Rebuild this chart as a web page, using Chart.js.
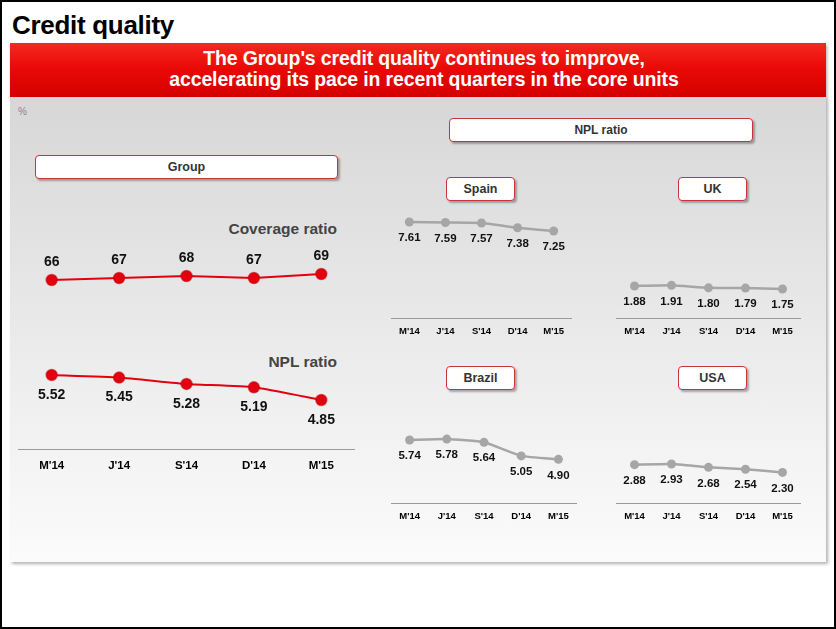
<!DOCTYPE html>
<html>
<head>
<meta charset="utf-8">
<script src="https://cdn.jsdelivr.net/npm/chart.js@4"></script>
<style>
  html, body { margin: 0; padding: 0; background: #fff; }
  body { font-family: "Liberation Sans", Arial, sans-serif; }
  #page {
    position: relative; width: 836px; height: 629px;
    border: 2px solid #000; box-sizing: border-box; overflow: hidden;
  }
  .abs { position: absolute; }
  #title { left: 10px; top: 8px; font-size: 26px; font-weight: bold; color: #000; letter-spacing: -0.3px; }
  #banner {
    left: 8px; top: 41px; width: 816px; height: 54px;
    background: linear-gradient(#f42a20 0%, #ea0a06 45%, #d40000 100%);
    box-shadow: 1px 2px 3px rgba(0,0,0,0.35);
    color: #fff; font-weight: bold; font-size: 19.5px; line-height: 21px;
    text-align: center; padding-top: 5px; box-sizing: border-box;
    padding-left: 12px; letter-spacing: -0.15px;
  }
  #panel {
    left: 8px; top: 95px; width: 816px; height: 465px;
    background: linear-gradient(#d7d7d7 0%, #e4e4e4 35%, #f1f1f1 70%, #fbfbfb 100%);
    box-shadow: 2px 2px 3px rgba(0,0,0,0.3);
  }
  #pct { left: 16px; top: 104px; font-size: 10px; color: #888; }
  .box {
    position: absolute; background: #fff; border: 1px solid #c9343a; border-radius: 4px;
    box-shadow: 2px 2px 2px rgba(0,0,0,0.3); box-sizing: border-box;
    font-weight: bold; color: #333; text-align: center;
  }
  .note { position: absolute; font-weight: bold; color: #444; font-size: 15.5px; text-align: right; }
  canvas { position: absolute; }
</style>
</head>
<body>
<div id="page">
  <div id="title" class="abs">Credit quality</div>
  <div id="banner" class="abs">The Group's credit quality continues to improve,<br>accelerating its pace in recent quarters in the core units</div>
  <div id="panel" class="abs"></div>
  <div id="pct" class="abs">%</div>

  <div class="box" style="left:33px;top:153px;width:303px;height:24px;line-height:22px;font-size:12.5px;">Group</div>
  <div class="box" style="left:447px;top:116px;width:304px;height:24px;line-height:22px;font-size:12px;">NPL ratio</div>
  <div class="box" style="left:444px;top:175px;width:69px;height:24px;line-height:22px;font-size:12.5px;">Spain</div>
  <div class="box" style="left:676px;top:175px;width:69px;height:24px;line-height:22px;font-size:12.5px;">UK</div>
  <div class="box" style="left:444px;top:364px;width:69px;height:24px;line-height:22px;font-size:12.5px;">Brazil</div>
  <div class="box" style="left:676px;top:364px;width:69px;height:24px;line-height:22px;font-size:12.5px;">USA</div>

  <div class="note" style="left:180px;top:218px;width:155px;">Coverage ratio</div>
  <div class="note" style="left:180px;top:351px;width:155px;">NPL ratio</div>

  <canvas id="group_chart" style="left:16px;top:198px;" width="337" height="280"></canvas>
  <canvas id="spain_chart" style="left:389px;top:198px;" width="181" height="145"></canvas>
  <canvas id="uk_chart" style="left:614px;top:198px;" width="185" height="145"></canvas>
  <canvas id="brazil_chart" style="left:389px;top:387px;" width="186" height="141"></canvas>
  <canvas id="usa_chart" style="left:614px;top:387px;" width="185" height="141"></canvas>
</div>

<script>
const quarters = ["M'14", "J'14", "S'14", "D'14", "M'15"];
const group_coverage = [66, 67, 68, 67, 69];
const group_npl = [5.52, 5.45, 5.28, 5.19, 4.85];
const spain_npl = [7.61, 7.59, 7.57, 7.38, 7.25];
const uk_npl = [1.88, 1.91, 1.80, 1.79, 1.75];
const brazil_npl = [5.74, 5.78, 5.64, 5.05, 4.90];
const usa_npl = [2.88, 2.93, 2.68, 2.54, 2.30];

const red = "#e3000f";
const grey = "#a6a6a6";

// draws the value next to each point, at the position the library computed
const value_labels = {
  id: "value_labels",
  afterDatasetsDraw(chart) {
    const ctx = chart.ctx;
    chart.data.datasets.forEach((ds, i) => {
      const meta = chart.getDatasetMeta(i);
      ctx.save();
      ctx.font = ds.label_font;
      ctx.fillStyle = "#111";
      ctx.textAlign = "center";
      ctx.textBaseline = "middle";
      meta.data.forEach((pt, j) => {
        const txt = ds.label_digits ? ds.data[j].toFixed(ds.label_digits) : String(ds.data[j]);
        ctx.fillText(txt, pt.x, pt.y + ds.label_offset);
      });
      ctx.restore();
    });
  },
};

function x_axis(font_size, axis_height, pad) {
  return {
    type: "category",
    offset: true,
    grid: { display: false, drawTicks: false },
    border: { display: true, color: "#9a9a9a", width: 1 },
    ticks: {
      color: "#000",
      padding: pad,
      font: { family: "Liberation Sans", weight: "bold", size: font_size },
    },
    afterFit: (scale) => { scale.height = axis_height; },
  };
}

function common_options(scales) {
  return {
    responsive: false,
    animation: false,
    layout: { padding: 0, autoPadding: false },
    plugins: { legend: { display: false }, tooltip: { enabled: false } },
    scales: scales,
  };
}

document.addEventListener("DOMContentLoaded", () => {
  new Chart(document.getElementById("group_chart"), {
    type: "line",
    data: {
      labels: quarters,
      datasets: [
        {
          data: group_coverage,
          yAxisID: "y",
          borderColor: red,
          backgroundColor: red,
          borderWidth: 2,
          pointRadius: 5.5,
          pointBorderColor: "rgba(200,0,10,0.6)",
          pointBorderWidth: 1.5,
          tension: 0.05,
          clip: false,
          label_font: "bold 14px 'Liberation Sans'",
          label_offset: -18,
          label_digits: 0,
        },
        {
          data: group_npl,
          yAxisID: "y2",
          borderColor: red,
          backgroundColor: red,
          borderWidth: 2,
          pointRadius: 5.5,
          pointBorderColor: "rgba(200,0,10,0.6)",
          pointBorderWidth: 1.5,
          tension: 0.15,
          clip: false,
          label_font: "bold 14px 'Liberation Sans'",
          label_offset: 20,
          label_digits: 2,
        },
      ],
    },
    options: common_options({
      x: x_axis(11.5, 31, 10),
      y: { display: false, min: -18.5, max: 106 },
      y2: { display: false, min: 3.54, max: 10.2 },
    }),
    plugins: [value_labels],
  });

  function small_chart(id, values, min, max, axis_height) {
    return new Chart(document.getElementById(id), {
      type: "line",
      data: {
        labels: quarters,
        datasets: [
          {
            data: values,
            borderColor: grey,
            backgroundColor: grey,
            borderWidth: 2.5,
            pointRadius: 4.5,
            pointBorderWidth: 0,
            tension: 0.15,
            clip: false,
            label_font: "bold 11.5px 'Liberation Sans'",
            label_offset: 16,
            label_digits: 2,
          },
        ],
      },
      options: common_options({
        x: x_axis(9.5, axis_height, 8),
        y: { display: false, min: min, max: max },
      }),
      plugins: [value_labels],
    });
  }

  small_chart("spain_chart", spain_npl, 3.77, 8.49, 27);
  small_chart("uk_chart", uk_npl, 0.49, 5.62, 27);
  small_chart("brazil_chart", brazil_npl, 3.0, 7.96, 27);
  small_chart("usa_chart", usa_npl, 0, 8.57, 27);
});
</script>
</body>
</html>
